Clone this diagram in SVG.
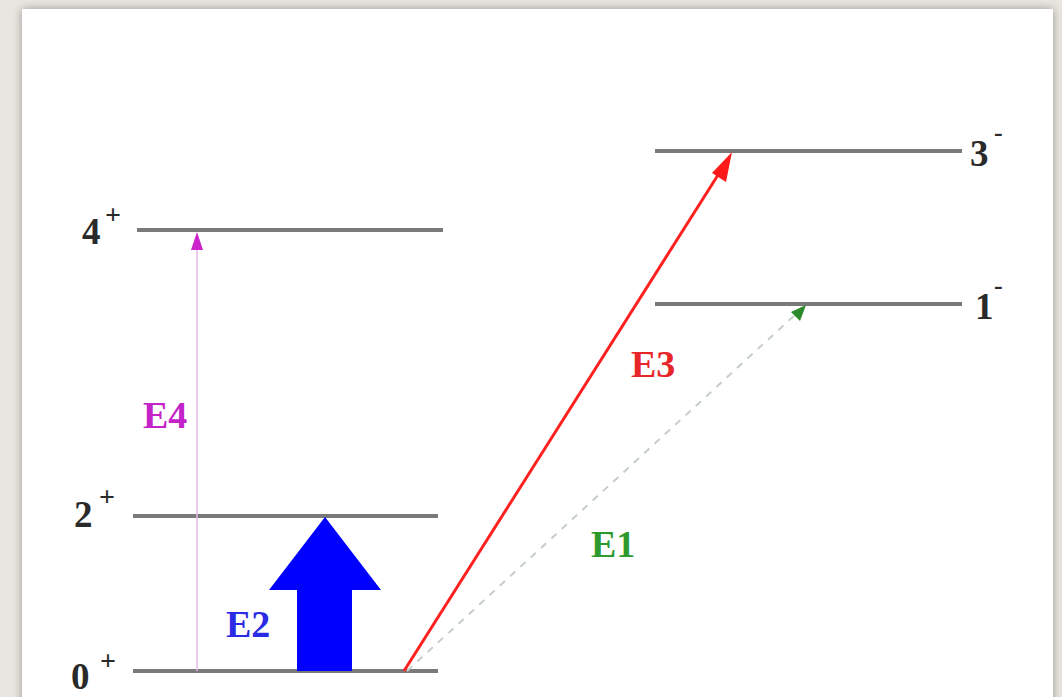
<svg xmlns="http://www.w3.org/2000/svg" width="1062" height="697" viewBox="0 0 1062 697">
<style>
.lvl{stroke:#7a7a7a;stroke-width:4;fill:none}
.num{font-family:"Liberation Serif","Times New Roman",serif;font-weight:bold;font-size:37px;fill:#2a2a2a}
.sup{font-family:"Liberation Serif","Times New Roman",serif;font-weight:bold;font-size:28px;fill:#2a2a2a}
.supm{font-family:"Liberation Serif","Times New Roman",serif;font-weight:bold;font-size:26px;fill:#2a2a2a}
.lab{font-family:"Liberation Serif","Times New Roman",serif;font-weight:bold;font-size:38px}
</style>
<defs>
<filter id="sh" x="-5%" y="-5%" width="110%" height="110%">
<feDropShadow dx="0" dy="0" stdDeviation="5" flood-color="#000" flood-opacity="0.35"/>
</filter>
</defs>
<rect x="0" y="0" width="1062" height="697" fill="#e9e6e1"/>
<rect x="22" y="9" width="1031" height="700" fill="#ffffff" filter="url(#sh)"/>

<g id="level-4plus">
<line class="lvl" x1="137" y1="230" x2="443" y2="230"/>
<text class="num" x="82" y="244">4</text><text class="sup" x="105" y="224">+</text>
</g>
<g id="level-2plus">
<line class="lvl" x1="133" y1="516" x2="438" y2="516"/>
<text class="num" x="74" y="527">2</text><text class="sup" x="99" y="506">+</text>
</g>
<g id="level-0plus">
<line class="lvl" x1="133" y1="671" x2="438" y2="671"/>
<text class="num" x="71" y="689">0</text><text class="sup" x="100" y="670">+</text>
</g>
<g id="level-3minus">
<line class="lvl" x1="655" y1="151" x2="962" y2="151"/>
<text class="num" x="970" y="166">3</text><text class="supm" x="994" y="141">-</text>
</g>
<g id="level-1minus">
<line class="lvl" x1="655" y1="304" x2="962" y2="304"/>
<text class="num" x="975" y="319">1</text><text class="supm" x="994" y="294">-</text>
</g>

<g id="connectors">
<line x1="197" y1="671" x2="197" y2="248" stroke="#e6b8ea" stroke-width="1.5"/>
<path d="M197,232 L203,250 L191,250 z" fill="#cc22cc"/>
<line x1="407" y1="671" x2="797" y2="313" stroke="#c4cfc6" stroke-width="2" stroke-dasharray="7,7"/>
<path d="M806,305 L800,321 L791,312 z" fill="#2a8a2a"/>
<line x1="404" y1="671" x2="718" y2="175" stroke="#ff2020" stroke-width="3"/>
<path d="M732,152 L726,182 L712,173 z" fill="#ff1a1a"/>
<path d="M297,671 L297,590 L269,590 L325,517 L381,590 L352,590 L352,671 z" fill="#0000ff"/>
</g>

<g id="labels">
<text class="lab" x="143" y="428" fill="#c423c9">E4</text>
<text class="lab" x="226" y="637" fill="#2b2be6">E2</text>
<text class="lab" x="631" y="377" fill="#e8262a">E3</text>
<text class="lab" x="591" y="557" fill="#2e9a2e">E1</text>
</g>
</svg>
